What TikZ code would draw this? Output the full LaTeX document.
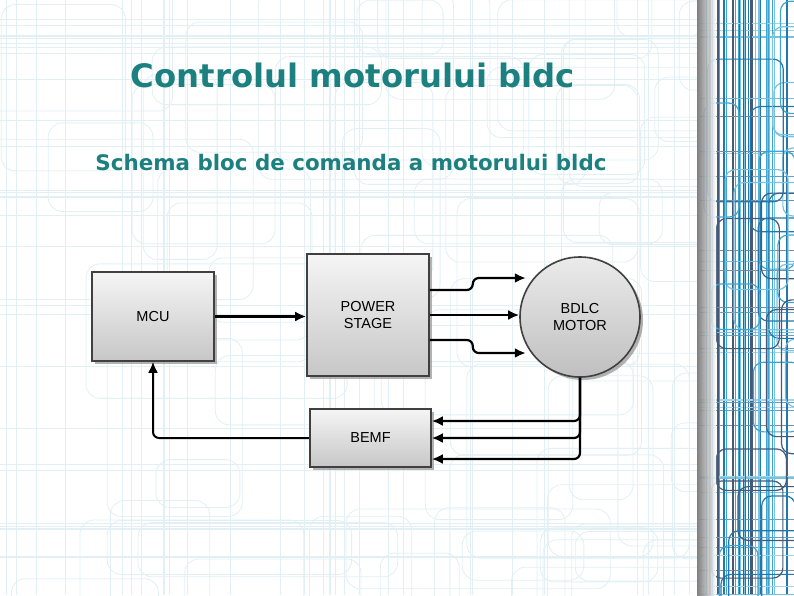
\documentclass[tikz,border=0pt]{standalone}
\usepackage{fontspec}
\setmainfont{DejaVu Sans}
\newfontfamily\boxfont{Liberation Sans}
\usepackage{tikz}
\usetikzlibrary{shapes,arrows,arrows.meta,positioning,shadows}

\definecolor{titleteal}{RGB}{28,128,128}
\definecolor{bgframe}{RGB}{226,240,245}
\definecolor{stripa}{RGB}{60,165,210}
\definecolor{stripb}{RGB}{35,120,170}
\definecolor{stripc}{RGB}{120,195,225}
\definecolor{stripd}{RGB}{70,90,120}

\tikzset{
  blok/.style={draw=black!75,line width=1.6pt,top color=black!4,bottom color=black!22,
    drop shadow={shadow xshift=3pt,shadow yshift=-3pt,fill=black!50,opacity=0.6},
    font=\boxfont\fontsize{14.5}{16.5}\selectfont,align=center,inner sep=0pt},
  wire/.style={line width=2.2pt,->,rounded corners=6pt},
}

\begin{document}
\begin{tikzpicture}[x=1pt,y=-1pt,>={Latex[length=11pt,width=10pt]}]
    \useasboundingbox (0,0) rectangle (794,595);
    \fill[white] (0,0) rectangle (794,595);

    % faint frames behind the slide
    \begin{scope}
      \clip (0,0) rectangle (697,595);
      \pgfmathsetseed{17}
      \foreach \k in {1,...,70} {
        \pgfmathsetmacro{\xa}{-40+rnd*720}
        \pgfmathsetmacro{\ya}{-40+rnd*620}
        \pgfmathsetmacro{\wa}{60+rnd*220}
        \pgfmathsetmacro{\ha}{40+rnd*170}
        \draw[bgframe,line width=0.8pt,rounded corners=14pt] (\xa,\ya) rectangle ++(\wa,\ha);
      }
      \foreach \k in {1,...,30} {
        \pgfmathsetmacro{\xa}{rnd*697}
        \draw[bgframe,line width=0.6pt] (\xa,0) -- (\xa,595);
        \pgfmathsetmacro{\ya}{rnd*595}
        \draw[bgframe,line width=0.6pt] (0,\ya) -- (697,\ya);
      }
    \end{scope}

    % strip on the right
    \begin{scope}
      \clip (697,0) rectangle (794,595);
      \pgfmathsetseed{5}
      \foreach \k in {1,...,34} {
        \pgfmathtruncatemacro{\c}{mod(\k,4)}
        \pgfmathsetmacro{\xa}{705+rnd*90}
        \ifcase\c \colorlet{sc}{stripa}\or\colorlet{sc}{stripb}\or\colorlet{sc}{stripc}\else\colorlet{sc}{stripd}\fi
        \draw[sc,line width=1.3pt] (\xa,0) -- (\xa,595);
        \pgfmathsetmacro{\ya}{rnd*595}
        \draw[sc!70,line width=1.1pt] (700,\ya) -- (794,\ya);
      }
      \foreach \k in {1,...,28} {
        \pgfmathtruncatemacro{\c}{mod(\k,4)}
        \pgfmathsetmacro{\xa}{700+rnd*90}
        \pgfmathsetmacro{\ya}{-20+rnd*600}
        \pgfmathsetmacro{\wa}{30+rnd*70}
        \pgfmathsetmacro{\ha}{40+rnd*120}
        \ifcase\c \colorlet{sc}{stripa}\or\colorlet{sc}{stripb}\or\colorlet{sc}{stripc}\else\colorlet{sc}{stripd}\fi
        \draw[sc,line width=1.2pt,rounded corners=10pt] (\xa,\ya) rectangle ++(\wa,\ha);
      }
      \shade[left color=black!55,right color=white,opacity=0.9] (697,0) rectangle (716,595);
    \end{scope}

    % titles
    \node (title) [anchor=base,text=titleteal,font=\bfseries\fontsize{32.3}{36}\selectfont] at (353,87) {Controlul motorului bldc};
    \node (subtitle) [anchor=base,text=titleteal,font=\bfseries\fontsize{21.4}{25}\selectfont] at (351,170) {Schema bloc de comanda a motorului bldc};

    % blocks
    \node (mcu) [blok,minimum width=122pt,minimum height=89pt] at (153,316.5) {MCU};
    \node (ps) [blok,minimum width=122pt,minimum height=122pt] at (368,315) {POWER\\STAGE};
    \node (bemf) [blok,minimum width=121pt,minimum height=58pt] at (370.5,438) {BEMF};
    \node (motor) [blok,circle,minimum size=120pt,top color=white!92!black,bottom color=black!25] at (580,317) {BDLC\\MOTOR};

    % connections
    \draw[wire] (mcu.east) -- (mcu.east -| ps.west);
    \draw[wire] ([yshift=25pt]ps.east) -- ++(43,0) -- ++(0,-12) -- ++(53,0);
    \draw[wire] (ps.east) -- (ps.east -| motor.west);
    \draw[wire] ([yshift=-25pt]ps.east) -- ++(43,0) -- ++(0,13) -- ++(53,0);
    \foreach \s in {17,0,-21}
      \draw[wire] (motor.south) |- ([yshift=\s pt]bemf.east);
    \draw[wire,line width=2pt] (bemf.west) -| (mcu.south);
\end{tikzpicture}
\end{document}
